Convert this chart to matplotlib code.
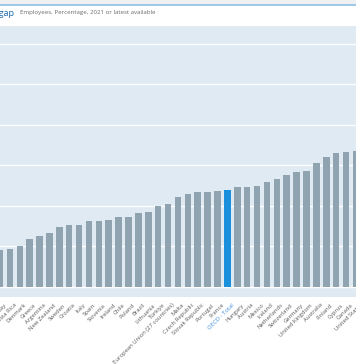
import matplotlib
matplotlib.use("Agg")
import matplotlib.pyplot as plt
import matplotlib.transforms as mtrans
import numpy as np

# Gender wage gap, employees, %, 2021 or latest available
countries = ["Norway", "Costa Rica", "Denmark", "Greece", "Argentina", "New Zealand",
             "Sweden", "Croatia", "Italy", "Spain", "Slovenia", "Ireland", "Chile",
             "Poland", "Brazil", "Lithuania", "Türkiye", "European Union (27 countries)",
             "Malta", "Czech Republic", "Slovak Republic", "Portugal", "France",
             "OECD - Total", "Hungary", "Austria", "Mexico", "Iceland", "Netherlands",
             "Switzerland", "Germany", "United Kingdom", "Australia", "Finland",
             "Cyprus", "Canada", "United States"]
gap = [4.6, 4.7, 5.0, 5.9, 6.3, 6.7,
       7.4, 7.6, 7.6, 8.1, 8.2, 8.3, 8.6,
       8.7, 9.1, 9.3, 10.0, 10.3,
       11.1, 11.5, 11.7, 11.7, 11.8,
       12.0, 12.3, 12.4, 12.5, 12.9, 13.3,
       13.8, 14.2, 14.3, 15.3, 16.0,
       16.5, 16.6, 16.8]
highlight = "OECD - Total"

W, H = 356, 364
fig = plt.figure(figsize=(W / 100, H / 100), dpi=100)
fig.patch.set_facecolor("white")

# header band + thin blue rule
fig.patches.append(plt.Rectangle((0, 1 - 4 / H), 1, 4 / H, transform=fig.transFigure,
                                 color="#eef0f2", zorder=0))
fig.add_artist(plt.Line2D([0, 1], [1 - 4.8 / H, 1 - 4.8 / H], transform=fig.transFigure,
                          color="#8dc1e6", lw=1.2))
fig.text(14 / W, 1 - 13 / H, "Gender wage gap", color="#1a68b0", fontsize=6.6,
         ha="right", va="center", family="Open Sans")
fig.text(20 / W, 1 - 12.5 / H, "Employees, Percentage, 2021 or latest available",
         color="#6b6b6b", fontsize=4.4, ha="left", va="center", family="Open Sans")

top_px, bot_px = 26, 297
ax = fig.add_axes([0, (H - bot_px) / H, 1, (bot_px - top_px) / H])
ax.set_facecolor("#dfeaf2")

x = np.arange(len(countries))
colors = ["#1a8fdc" if c == highlight else "#8fa3b1" for c in countries]
ax.bar(x, gap, width=0.66, color=colors, zorder=3)

ax.set_yticks([0, 5, 10, 15, 20, 25, 30])
ax.yaxis.grid(True, color="white", lw=1.0, zorder=1)
ax.tick_params(axis="y", left=False, labelleft=False)
ax.set_ylim(-1.23, 32.2)
ax.set_xlim(0.195, 36.01)

ax.set_xticks(x)
ax.set_xticklabels(countries, rotation=45, ha="right", rotation_mode="anchor",
                   fontsize=4.2, family="Open Sans")
ax.tick_params(axis="x", length=0, pad=4)
shift = mtrans.ScaledTranslation(4 / 100, 0, fig.dpi_scale_trans)
for lab in ax.get_xticklabels():
    lab.set_color("#3f8fd8" if lab.get_text() == highlight else "#5a5a5a")
    lab.set_transform(lab.get_transform() + shift)

for s in ax.spines.values():
    s.set_visible(False)

fig.savefig("out.png", dpi=100)
